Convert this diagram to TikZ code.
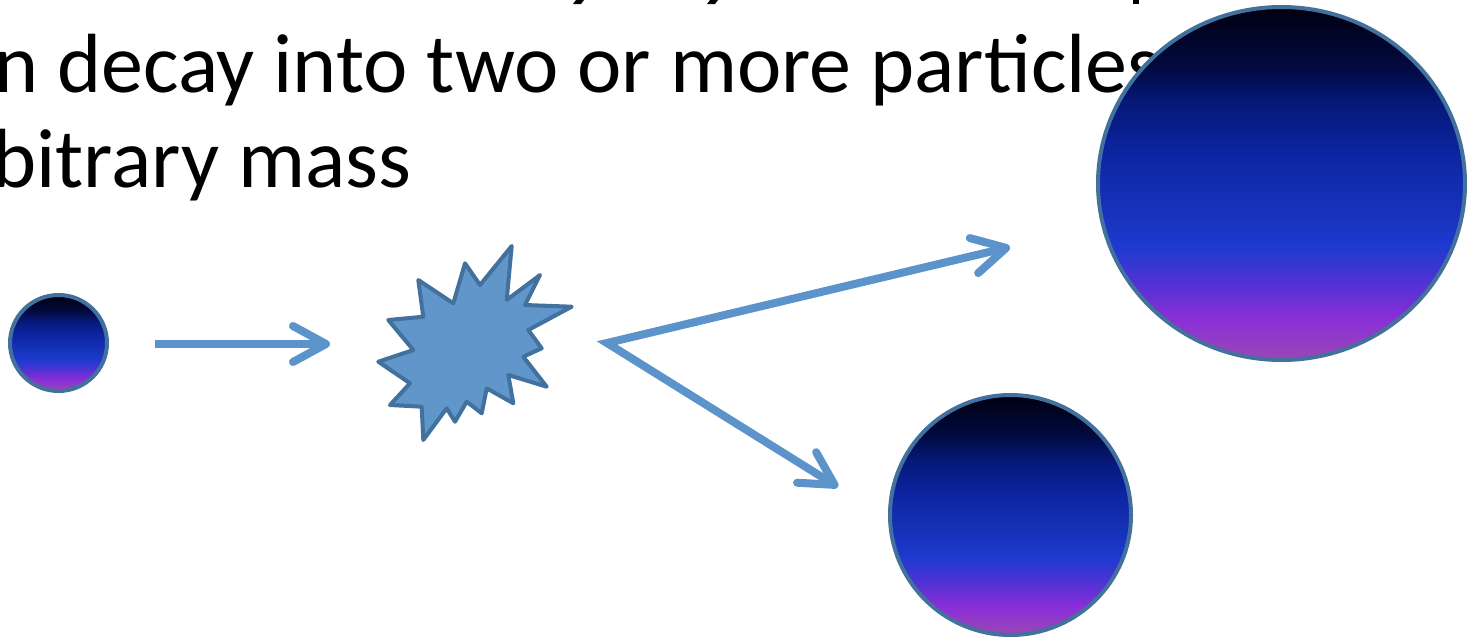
\documentclass[tikz,border=0pt]{standalone}
\usepackage{fontspec}
\setmainfont{Carlito}
\usetikzlibrary{arrows.meta,shapes.geometric}
\definecolor{outl}{HTML}{41719C}
\definecolor{arrc}{HTML}{5B93CA}
\definecolor{starc}{HTML}{6096C9}
\definecolor{g0}{HTML}{9A48B4}
\definecolor{g1}{HTML}{8A2ED8}
\definecolor{g2}{HTML}{5032D4}
\definecolor{g3}{HTML}{1E3AD0}
\definecolor{g4}{HTML}{1430B4}
\definecolor{g5}{HTML}{0C24A0}
\definecolor{g6}{HTML}{061878}
\definecolor{g7}{HTML}{020A40}
\definecolor{g8}{HTML}{000010}
\pgfdeclareverticalshading{ballshade}{100bp}{color(0bp)=(g0); color(25bp)=(g0); color(31bp)=(g1); color(36bp)=(g2); color(41bp)=(g3); color(48bp)=(g4); color(54.5bp)=(g5); color(61.5bp)=(g6); color(66.5bp)=(g7); color(75bp)=(g8); color(100bp)=(g8)}
\tikzset{mybarb/.tip={Straight Barb[length=33pt, width=36pt, round]}}
\begin{document}
\begin{tikzpicture}[x=1pt,y=-1pt,
  txt/.style={inner sep=0pt, anchor=base west, font=\fontsize{84}{95}\selectfont},
  ball/.style={ellipse, inner sep=0pt, draw=outl, line width=4pt, shading=ballshade},
  arr/.style={draw=arrc, line width=8pt, line join=miter},
  burst/.style={draw=outl, fill=starc, line width=4pt, line join=round}]
\useasboundingbox (0,0) rectangle (1467,637);
% text
\node[txt] (l2) at (-6,92) {n decay into two or more particles};
\node[txt] (l3) at (-8,187) {bitrary mass};
% descender fragments of the line above
\fill (576,0) -- (584,0) -- (581,4) -- (573,4) -- cycle;
\fill (710,0) -- (718,0) -- (715,4) -- (707,4) -- cycle;
\fill (1133,0) rectangle (1139,4);
% particles
\node[ball, minimum width=97pt, minimum height=96pt] (p0) at (58.5,343) {};
\node[ball, minimum width=241pt, minimum height=240pt] (p2) at (1010.5,515) {};
\node[ball, minimum width=367pt, minimum height=353pt] (p1) at (1281.5,183.5) {};
% burst
\draw[burst] (511.7,246) -- (506.7,300) -- (540,275) -- (525,305) -- (571.7,306.7)
  -- (528.3,330) -- (541.7,348.3) -- (523.3,356.7) -- (546.7,386.7) -- (508.3,375)
  -- (513.3,403.3) -- (486.7,388.3) -- (481.7,413.3) -- (466.7,401.7) -- (455,421.7)
  -- (446.7,408.3) -- (423.3,440) -- (421.7,406.7) -- (390,405) -- (410,383.3)
  -- (378.3,361.7) -- (413.3,350) -- (388.3,320) -- (423.3,316.7) -- (418.3,280)
  -- (453.3,303.3) -- (465,263.3) -- (480,285) -- cycle;
\coordinate (bc) at (470,345);
% arrows
\coordinate (a1s) at (155,344);
\coordinate (a1e) at (330,344);
\coordinate (split) at (607,343);
\coordinate (a2e) at (1010,247);
\coordinate (a3e) at (838,487);
\draw[arr, -{mybarb}] (a1s) -- (a1e);
\draw[arr, {mybarb}-{mybarb}] (a2e) -- (split) -- (a3e);
\end{tikzpicture}
\end{document}
